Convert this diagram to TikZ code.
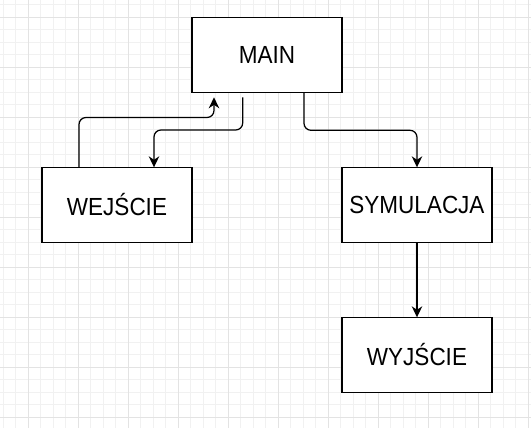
\documentclass[tikz,border=0pt]{standalone}
\usepackage{fontspec}
\setmainfont{Liberation Sans}
\usetikzlibrary{arrows.meta,calc}
\definecolor{gridminor}{HTML}{F1F1F1}
\definecolor{gridmajor}{HTML}{E3E3E3}
\definecolor{ink}{HTML}{000000}
\newcommand{\boxlabel}[1]{\scalebox{1}[1.1]{#1}}
\tikzset{
  box/.style={draw=ink, line width=1.25pt, fill=white, minimum width=150pt, minimum height=75pt,
    inner sep=0pt, outer sep=0pt, font=\fontsize{22.5}{27}\selectfont, text=ink},
  conn/.style={draw=ink, line width=1.25pt, rounded corners=7pt,
    -{Stealth[length=11pt,width=10.5pt,inset=3.5pt]}},
}
\begin{document}
\begin{tikzpicture}[x=1pt,y=-1pt]
\useasboundingbox (0,0) rectangle (531,428);
\fill[white] (0,0) rectangle (531,428);
% minor grid
\foreach \i in {0,...,42} {
  \draw[gridminor, line width=0.9pt] ({3.3+12.5*\i},0) -- ({3.3+12.5*\i},428);
}
\foreach \j in {0,...,34} {
  \draw[gridminor, line width=0.9pt] (0,{4.8+12.5*\j}) -- (531,{4.8+12.5*\j});
}
% major grid
\foreach \i in {0,...,10} {
  \draw[gridmajor, line width=0.9pt] ({28.3+50*\i},0) -- ({28.3+50*\i},428);
}
\foreach \j in {0,...,8} {
  \draw[gridmajor, line width=0.9pt] (0,{17.3+50*\j}) -- (531,{17.3+50*\j});
}

\node[box] (main) at (267,54.8) {\boxlabel{MAIN}};
\node[box] (wej)  at (117,204.8) {\boxlabel{WEJŚCIE}};
\node[box] (sym)  at (417,204.8) {\boxlabel{SYMULACJA}};
\node[box] (wyj)  at (417,354.8) {\boxlabel{WYJŚCIE}};

% free ends near MAIN
\coordinate (inMain)  at ($(main.south west)+(22,5)$);
\coordinate (outMain) at ($(main.south west)+(50.7,5)$);
\coordinate (lvlA) at (0,117.5);
\coordinate (lvlB) at (0,130);

\draw[conn] ($(wej.north west)+(37,0)$) |- (inMain |- lvlA) -- (inMain);
\draw[conn] (outMain) -- (outMain |- lvlB) -| ($(wej.north west)+(112,0)$);
\draw[conn] ($(main.south west)+(112,0)$) |- ($(sym.north)+(0,-37)$) -- (sym.north);
\draw[conn] (sym.south) -- (wyj.north);
\end{tikzpicture}
\end{document}
